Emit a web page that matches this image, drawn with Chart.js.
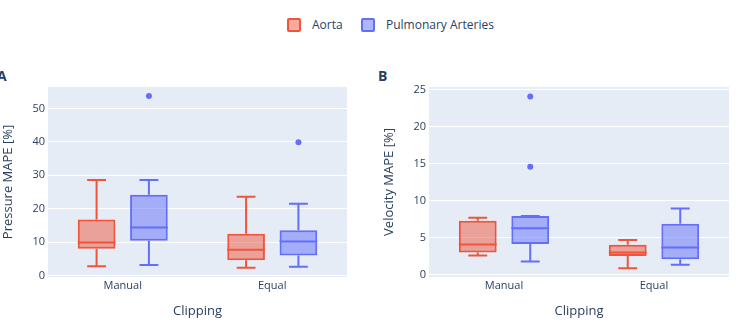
<!DOCTYPE html>
<html>
<head>
<meta charset="utf-8">
<script src="https://cdn.jsdelivr.net/npm/chart.js@4.4.1/dist/chart.umd.min.js"></script>
<style>
  body { margin: 0; background: #fff; font-family: "Open Sans", sans-serif; color: #2a3f5f; }
  #page { position: relative; width: 747px; height: 327px; overflow: hidden; }
  .panel { position: absolute; top: 0; }
  .tag { position: absolute; top: 66px; font-size: 14px; font-weight: bold; color: #2a3f5f; }
  .leg { position: absolute; top: 17px; font-size: 12px; line-height: 16px; white-space: nowrap; }
  .sw { position: absolute; top: 1px; width: 10px; height: 10px; border: 2px solid; border-radius: 2px; }
</style>
</head>
<body>
<div id="page">
  <div class="leg" style="left:287px"><span class="sw" style="border-color:#EF553B;background:rgba(239,85,59,0.5)"></span><span style="margin-left:25px">Aorta</span></div>
  <div class="leg" style="left:361px"><span class="sw" style="border-color:#636EFA;background:rgba(99,110,250,0.5)"></span><span style="margin-left:25px">Pulmonary Arteries</span></div>
  <div class="tag" style="left:-3px">A</div>
  <div class="tag" style="left:378px">B</div>
  <canvas class="panel" id="chartA" width="370" height="327" style="left:0"></canvas>
  <canvas class="panel" id="chartB" width="377" height="327" style="left:370px"></canvas>
</div>
<script>
var categories = ["Manual", "Equal"];

// five-number summaries per category: [lower whisker, q1, median, q3, upper whisker]
var pressureAorta = [[2.8, 8.05, 9.9, 16.8, 28.6], [2.4, 4.6, 7.75, 12.5, 23.6]];
var pressurePulm = [[3.2, 10.4, 14.4, 24.2, 28.6], [2.7, 6.0, 10.2, 13.6, 21.5]];
var pressureAortaOut = [[], []];
var pressurePulmOut = [[53.7], [39.9]];

var velocityAorta = [[2.6, 3.0, 4.1, 7.3, 7.7], [0.9, 2.53, 3.0, 4.07, 4.7]];
var velocityPulm = [[1.8, 4.16, 6.3, 7.96, 7.96], [1.35, 2.1, 3.7, 6.9, 8.95]];
var velocityAortaOut = [[], []];
var velocityPulmOut = [[24.1, 14.6], []];

var pressureTicks = [0, 10, 20, 30, 40, 50];
var velocityTicks = [0, 5, 10, 15, 20, 25];

var red = "#EF553B";
var blue = "#636EFA";
var textColor = "#2a3f5f";

var boxPlugin = {
  id: "boxes",
  beforeDraw: function (chart) {
    var a = chart.chartArea, ctx = chart.ctx;
    ctx.save();
    ctx.fillStyle = "#E5ECF6";
    ctx.fillRect(a.left, a.top, a.right - a.left, a.bottom - a.top);
    ctx.restore();
  },
  afterDatasetsDraw: function (chart) {
    var ctx = chart.ctx, ys = chart.scales.y;
    chart.data.datasets.forEach(function (ds, i) {
      var meta = chart.getDatasetMeta(i);
      meta.data.forEach(function (bar, j) {
        var s = ds.stats[j];
        var x = bar.x, w = bar.width;
        var py = function (v) { return ys.getPixelForValue(v); };
        ctx.save();
        ctx.strokeStyle = ds.borderColor;
        ctx.lineWidth = 2;
        ctx.beginPath();
        // whiskers
        ctx.moveTo(x, py(s[0])); ctx.lineTo(x, py(s[1]));
        ctx.moveTo(x, py(s[3])); ctx.lineTo(x, py(s[4]));
        // caps
        ctx.moveTo(x - w / 4, py(s[0])); ctx.lineTo(x + w / 4, py(s[0]));
        ctx.moveTo(x - w / 4, py(s[4])); ctx.lineTo(x + w / 4, py(s[4]));
        // median
        ctx.moveTo(x - w / 2, py(s[2])); ctx.lineTo(x + w / 2, py(s[2]));
        ctx.stroke();
        // outliers
        ctx.fillStyle = ds.borderColor;
        ds.outliers[j].forEach(function (v) {
          ctx.beginPath();
          ctx.arc(x, py(v), 3, 0, Math.PI * 2);
          ctx.fill();
        });
        ctx.restore();
      });
    });
  }
};

function makeBox(label, stats, outliers, color, fill) {
  return {
    label: label,
    data: stats.map(function (s) { return [s[1], s[3]]; }),
    stats: stats,
    outliers: outliers,
    backgroundColor: fill,
    borderColor: color,
    borderWidth: 2,
    borderSkipped: false,
    categoryPercentage: 0.7,
    barPercentage: 0.72
  };
}

function makeChart(id, aorta, pulm, aortaOut, pulmOut, tickVals, yMin, yMax, yTitle, axisWidth, rightPad, titlePad) {
  return new Chart(id, {
    type: "bar",
    data: {
      labels: categories,
      datasets: [
        makeBox("Aorta", aorta, aortaOut, red, "rgba(239,85,59,0.5)"),
        makeBox("Pulmonary Arteries", pulm, pulmOut, blue, "rgba(99,110,250,0.5)")
      ]
    },
    plugins: [boxPlugin],
    options: {
      responsive: false,
      animation: false,
      layout: { padding: { top: 87, right: rightPad, bottom: 0, left: 0 } },
      plugins: { legend: { display: false }, tooltip: { enabled: false } },
      scales: {
        x: {
          grid: { display: false, drawTicks: false },
          border: { display: false },
          ticks: { color: textColor, font: { family: "Open Sans", size: 11 }, padding: 2 },
          title: { display: true, text: "Clipping", color: textColor,
                   font: { family: "Open Sans", size: 13 }, padding: { top: 0, bottom: 8 } },
          afterFit: function (s) { s.height = 50; }
        },
        y: {
          min: yMin,
          max: yMax,
          grid: { color: "#ffffff", lineWidth: 1, drawTicks: false },
          border: { display: false },
          ticks: { color: textColor, font: { family: "Open Sans", size: 11 }, padding: 3 },
          afterBuildTicks: function (s) { s.ticks = tickVals.map(function (v) { return { value: v }; }); },
          title: { display: true, text: yTitle, color: textColor,
                   font: { family: "Open Sans", size: 13 }, padding: { top: titlePad, bottom: 0 } },
          afterFit: function (s) { s.width = axisWidth; }
        }
      }
    }
  });
}

makeChart("chartA", pressureAorta, pressurePulm, pressureAortaOut, pressurePulmOut,
  pressureTicks, -0.4, 56.4, "Pressure MAPE [%]", 48, 23, 0);
makeChart("chartB", velocityAorta, velocityPulm, velocityAortaOut, velocityPulmOut,
  velocityTicks, -0.3, 25.4, "Velocity MAPE [%]", 59, 18, 11);
</script>
</body>
</html>
